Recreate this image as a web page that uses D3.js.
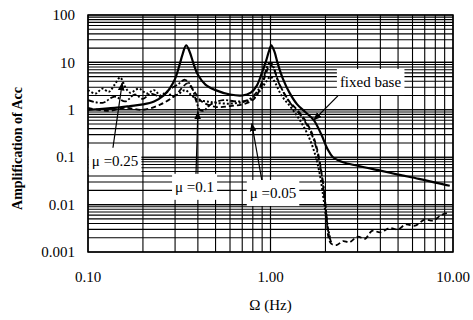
<!DOCTYPE html>
<html>
<head>
<meta charset="utf-8">
<script src="https://cdn.jsdelivr.net/npm/d3@7"></script>
<style>
  body { margin: 0; background: #fff; }
  svg text { font-family: "Liberation Serif", "Times New Roman", serif; fill: #000; }
</style>
</head>
<body>
<div id="chart"></div>
<script>
var margin = {top: 15, right: 20, bottom: 68, left: 88},
    width = 473 - margin.left - margin.right,
    height = 320 - margin.top - margin.bottom;

// tick labels
var xTicks = [0.1, 1, 10];
var xTickLabels = ["0.10", "1.00", "10.00"];
var yTicks = [0.001, 0.01, 0.1, 1, 10, 100];
var yTickLabels = ["0.001", "0.01", "0.1", "1", "10", "100"];

// fixed base [freq Hz, amplification]
var fixedBase = [
  [0.1, 1.0], [0.12, 1.05], [0.14, 1.1], [0.17, 1.2], [0.2, 1.3], [0.23, 1.5],
  [0.26, 2.0], [0.28, 2.8], [0.3, 4.5], [0.315, 8], [0.33, 15], [0.345, 23],
  [0.36, 17], [0.38, 9], [0.4, 5.5], [0.44, 3.4], [0.5, 2.6], [0.6, 2.1],
  [0.7, 2.0], [0.78, 2.3], [0.84, 3.2], [0.89, 5.5], [0.94, 10], [0.98, 17],
  [1.01, 23], [1.05, 17], [1.1, 9], [1.17, 4.5], [1.27, 2.3], [1.4, 1.3],
  [1.55, 0.9], [1.73, 0.6], [1.9, 0.3], [2.05, 0.15], [2.2, 0.1],
  [2.5, 0.078], [3, 0.066], [4, 0.052], [5, 0.043], [6.5, 0.035], [8, 0.029], [9.6, 0.025]
];

// mu = 0.25 (dotted)
var mu025 = [
  [0.1, 2.6], [0.11, 2.2], [0.12, 2.8], [0.13, 2.4], [0.14, 3.4], [0.15, 4.8],
  [0.16, 3.0], [0.17, 2.3], [0.19, 2.8], [0.21, 2.2], [0.23, 2.6], [0.25, 2.0],
  [0.27, 2.4], [0.29, 1.9], [0.31, 2.1], [0.34, 2.6], [0.37, 2.0], [0.4, 1.6],
  [0.45, 1.5], [0.5, 1.4], [0.6, 1.35], [0.7, 1.45], [0.8, 1.7], [0.88, 2.6],
  [0.95, 4.0], [1.0, 5.0], [1.05, 4.0], [1.15, 2.0], [1.3, 1.1], [1.45, 0.6],
  [1.6, 0.3], [1.75, 0.12], [1.87, 0.04], [1.96, 0.012], [2.04, 0.004], [2.12, 0.002]
];

// mu = 0.1 (dash-dot)
var mu01 = [
  [0.1, 1.6], [0.12, 1.4], [0.14, 1.9], [0.16, 1.5], [0.18, 2.1], [0.2, 1.7],
  [0.22, 2.2], [0.25, 1.9], [0.28, 2.7], [0.31, 3.4], [0.34, 4.3], [0.37, 3.0],
  [0.39, 1.6], [0.41, 1.0], [0.43, 0.95], [0.47, 1.3], [0.55, 1.6], [0.65, 1.5],
  [0.75, 1.6], [0.85, 2.5], [0.92, 5], [0.97, 9], [1.0, 10], [1.04, 8],
  [1.1, 4], [1.2, 2.1], [1.3, 1.3], [1.45, 0.8], [1.6, 0.45], [1.75, 0.2],
  [1.85, 0.08], [1.95, 0.025], [2.02, 0.007], [2.08, 0.0025], [2.15, 0.0016]
];

// mu = 0.05 (dashed)
var mu005 = [
  [0.1, 1.1], [0.13, 0.95], [0.16, 1.1], [0.2, 1.0], [0.25, 1.3], [0.3, 2.0],
  [0.33, 3.0], [0.35, 3.6], [0.38, 2.5], [0.42, 1.5], [0.5, 1.15], [0.6, 1.2],
  [0.7, 1.3], [0.8, 1.6], [0.88, 2.8], [0.94, 5.5], [0.99, 9], [1.03, 8],
  [1.08, 5], [1.15, 2.8], [1.25, 1.6], [1.4, 1.0], [1.55, 0.6], [1.7, 0.3],
  [1.8, 0.15], [1.9, 0.05], [1.97, 0.015], [2.03, 0.005], [2.08, 0.002],
  [2.15, 0.0015], [2.3, 0.0014], [2.5, 0.0017], [2.7, 0.0016], [3.0, 0.0021],
  [3.3, 0.0019], [3.6, 0.0028], [4.0, 0.0026], [4.5, 0.0032], [5, 0.003],
  [5.5, 0.0038], [6.2, 0.0036], [7, 0.0048], [7.8, 0.0046], [8.6, 0.006], [9.5, 0.0068]
];

// annotations: label position [f, value] and arrow [from, to]
var labels = [
  {text: "fixed base", at: [2.4, 3.9], from: [2.34, 1.97], to: [1.73, 0.61]},
  {text: "\u03bc =0.25", at: [0.105, 0.084], from: [0.137, 0.158], to: [0.154, 3.7]},
  {text: "\u03bc =0.1", at: [0.30, 0.024], from: [0.39, 0.037], to: [0.40, 0.91]},
  {text: "\u03bc =0.05", at: [0.77, 0.0178], from: [0.90, 0.030], to: [0.79, 0.51]}
];

var series = [
  {data: mu025, dash: "2,2", w: 2},
  {data: mu01, dash: "6,2,2,2", w: 1.8},
  {data: mu005, dash: "5,3", w: 1.8},
  {data: fixedBase, dash: null, w: 2.2}
];

var svg = d3.select("#chart").append("svg")
    .attr("width", 473)
    .attr("height", 320)
  .append("g")
    .attr("transform", "translate(" + margin.left + "," + margin.top + ")");

var x = d3.scaleLog().domain([0.1, 10]).range([0, width]);
var y = d3.scaleLog().domain([0.001, 100]).range([height, 0]);

// grid lines (major + minor)
var xGrid = [], yGrid = [];
[0.1, 1].forEach(function(d) { for (var k = 1; k <= 10; k++) xGrid.push(d * k); });
[0.001, 0.01, 0.1, 1, 10].forEach(function(d) { for (var k = 1; k <= 10; k++) yGrid.push(d * k); });

svg.append("g").selectAll("line").data(xGrid).enter().append("line")
    .attr("x1", function(d) { return x(d); })
    .attr("x2", function(d) { return x(d); })
    .attr("y1", 0).attr("y2", height)
    .style("stroke", "#000")
    .style("stroke-width", 1.1);

svg.append("g").selectAll("line").data(yGrid).enter().append("line")
    .attr("x1", 0).attr("x2", width)
    .attr("y1", function(d) { return y(d); })
    .attr("y2", function(d) { return y(d); })
    .style("stroke", "#000")
    .style("stroke-width", 1.1);

svg.append("rect")
    .attr("width", width).attr("height", height)
    .style("fill", "none").style("stroke", "#000").style("stroke-width", 1.5);

// curves
var line = d3.line()
    .x(function(d) { return x(d[0]); })
    .y(function(d) { return y(d[1]); })
    .curve(d3.curveCatmullRom.alpha(0.5));

series.forEach(function(s) {
  svg.append("path")
      .datum(s.data)
      .attr("d", line)
      .style("fill", "none")
      .style("stroke", "#000")
      .style("stroke-width", s.w)
      .style("stroke-dasharray", s.dash);
});

// arrowhead
svg.append("defs").append("marker")
    .attr("id", "arrow")
    .attr("viewBox", "0 0 10 10")
    .attr("refX", 9).attr("refY", 5)
    .attr("markerWidth", 7).attr("markerHeight", 7)
    .attr("orient", "auto")
  .append("path")
    .attr("d", "M0,1L10,5L0,9Z")
    .style("fill", "#000");

labels.forEach(function(d) {
  svg.append("line")
      .attr("x1", x(d.from[0])).attr("y1", y(d.from[1]))
      .attr("x2", x(d.to[0])).attr("y2", y(d.to[1]))
      .style("stroke", "#000").style("stroke-width", 1.2)
      .attr("marker-end", "url(#arrow)");

  var g = svg.append("g");
  var t = g.append("text")
      .attr("x", x(d.at[0])).attr("y", y(d.at[1]))
      .attr("dy", "0.35em")
      .style("font-size", "15px")
      .text(d.text);
  var bb = t.node().getBBox();
  g.insert("rect", "text")
      .attr("x", bb.x - 3).attr("y", bb.y - 5)
      .attr("width", bb.width + 6).attr("height", bb.height + 10)
      .style("fill", "#fff");
});

// axis labels
svg.append("g").selectAll("text").data(xTicks).enter().append("text")
    .attr("x", function(d) { return x(d); })
    .attr("y", height + 30)
    .attr("text-anchor", "middle")
    .style("font-size", "15px")
    .text(function(d, i) { return xTickLabels[i]; });

svg.append("g").selectAll("text").data(yTicks).enter().append("text")
    .attr("x", -13)
    .attr("y", function(d) { return y(d); })
    .attr("dy", "0.35em")
    .attr("text-anchor", "end")
    .style("font-size", "15px")
    .text(function(d, i) { return yTickLabels[i]; });

svg.append("text")
    .attr("x", x(1))
    .attr("y", height + 58)
    .attr("text-anchor", "middle")
    .style("font-size", "15px")
    .text("\u03a9 (Hz)");

svg.append("text")
    .attr("transform", "translate(" + (-66) + "," + (height / 2 + 15) + ") rotate(-90)")
    .attr("text-anchor", "middle")
    .style("font-size", "14px")
    .style("font-weight", "bold")
    .text("Amplification of Acc");
</script>
</body>
</html>
